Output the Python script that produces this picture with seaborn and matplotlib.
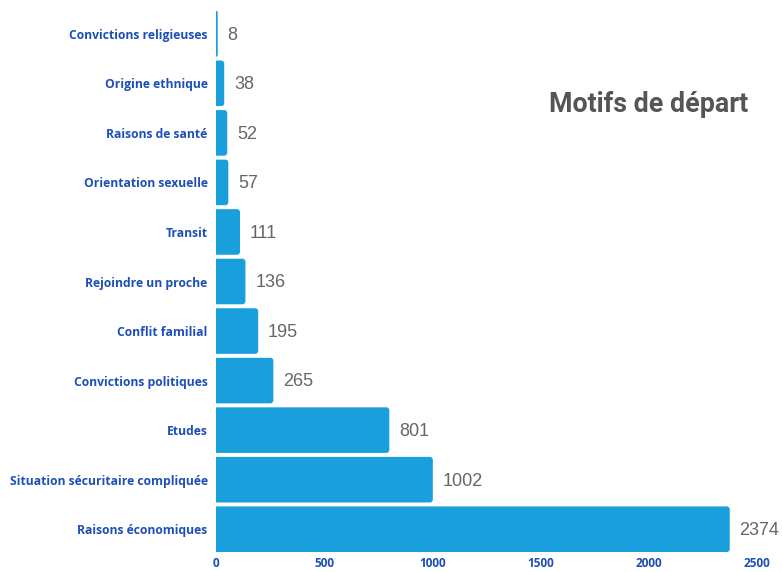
import matplotlib
matplotlib.use("Agg")
import matplotlib.pyplot as plt
from matplotlib.patches import FancyBboxPatch
import seaborn as sns
import pandas as pd

categories = [
    "Convictions religieuses", "Origine ethnique", "Raisons de santé",
    "Orientation sexuelle", "Transit", "Rejoindre un proche",
    "Conflit familial", "Convictions politiques", "Etudes",
    "Situation sécuritaire compliquée", "Raisons économiques",
]
values = [8, 38, 52, 57, 111, 136, 195, 265, 801, 1002, 2374]
xticks = [0, 500, 1000, 1500, 2000, 2500]
title = "Motifs de départ"

sns.set_theme(style="white")

df = pd.DataFrame({"motif": categories, "n": values})

fig = plt.figure(figsize=(7.82, 5.72), dpi=100)
ax = fig.add_axes([216/782, 18/572, 541/782, 545/572])

sns.barplot(data=df, y="motif", x="n", orient="h", color="#199fdb",
            saturation=1, width=0.92, ax=ax, edgecolor="none")

ax.set_xlim(0, 2500)
ax.set_ylim(len(categories) - 0.5, -0.5)

# rounded right corners (~3 px)
xunit_per_px = 2500 / 541
yunit_per_px = len(categories) / 545
for p in list(ax.patches):
    x, y = p.get_x(), p.get_y()
    w, h = p.get_width(), p.get_height()
    fc = p.get_facecolor()
    p.remove()
    r = min(3 * xunit_per_px, w / 2)
    aspect = (3 * yunit_per_px) / r if r > 0 else 1
    fb = FancyBboxPatch((x - r, y), w + r, h,
                        boxstyle=f"round,pad=0,rounding_size={r}",
                        mutation_aspect=aspect, facecolor=fc,
                        edgecolor="none", clip_on=True)
    ax.add_patch(fb)

ax.set_xticks(xticks)
ax.set_xticklabels([str(t) for t in xticks], fontfamily="Open Sans",
                   fontweight="bold", fontsize=8.5, color="#1c4fb8")
ax.set_yticklabels(categories, fontfamily="Open Sans", fontweight="bold",
                   fontsize=8.7, color="#1c4fb8")
ax.set_xlabel("")
ax.set_ylabel("")
ax.tick_params(axis="y", length=0, pad=6)
ax.tick_params(axis="x", length=0, pad=2)
for s in ax.spines.values():
    s.set_visible(False)
ax.grid(False)

for i, v in enumerate(values):
    ax.annotate(str(v), xy=(v, i), xytext=(7, -1), textcoords="offset points",
                va="center", ha="left", fontsize=13, color="#666666",
                fontfamily="Liberation Sans")

fig.text(748/782, 1 - 104/572, title, ha="right", va="center",
         fontsize=19.3, fontweight="bold", color="#555555", fontfamily="Roboto")

fig.savefig("out.png", dpi=100)
